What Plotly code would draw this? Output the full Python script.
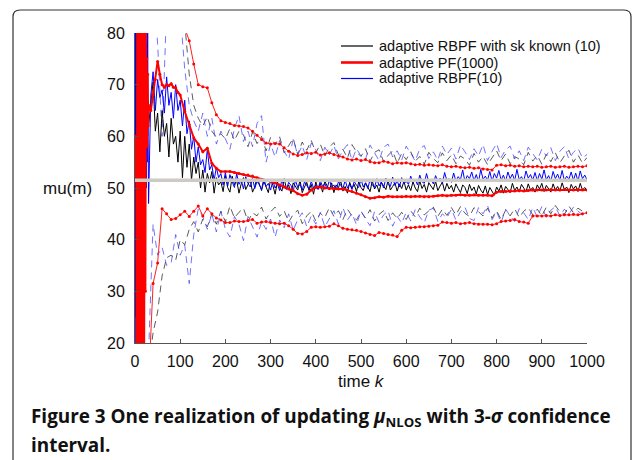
import plotly.graph_objects as go

# ---------------- data ----------------
# grid for the noisy solid estimates: k=0..30 step 1, then 35..1000 step 5
K_SOLID = list(range(0, 31)) + list(range(35, 1001, 5))
# grid for the PF mean: 0..30 step1, 35..95 step 5, 100..1000 step 10
K_PFMEAN = list(range(0, 31)) + list(range(35, 100, 5)) + list(range(100, 1001, 10))
# grid for confidence bounds
K_BOUND = list(range(0, 1001, 10))

rbpf_known = [
    50, 90, 25, 85, 30, 78, 38, 80, 35, 72, 45, 78, 50, 70, 55, 75, 48, 68, 60, 72, 55, 66, 62, 70, 58, 66, 63, 69, 60, 67, 62,
    66, 70.5, 61, 64.5, 57, 65, 60, 62.5, 56, 63.5, 58.5, 60, 55, 61,
    52, 60, 54, 58.5, 51.5, 56, 52.8, 55, 50, 53.5, 49.2, 52.8, 51, 53.2, 49, 52, 50.6, 51.2, 49.3, 52.4,
    50.1, 49.2, 52.3, 50.6, 51.5, 49, 50.8, 52, 49.7, 50.5, 51.6, 49.2, 50.2, 52.1, 50.9, 49.5, 51.3, 50, 49.1, 51.7,
    50.5, 48.8, 51.2, 50.1, 49.4, 51.8, 49.9, 50.6, 48.9, 51, 50.3, 49.6, 51.5, 49.1, 50.2, 51.1, 49.5, 50.7, 48.8, 51.2,
    49.8, 50.9, 49.2, 51.3, 50.4, 49.6, 51, 49.1, 50.6, 50, 51.4, 49.4, 50.3, 49, 51.1, 49.9, 50.7, 49.3, 51.2, 50.1,
    49.5, 51, 50.2, 49.3, 51.4, 49.8, 50.6, 49.2, 51.1, 50.4, 49.7, 51.5, 49.6, 50.3, 51, 49.4, 50.8, 49.9, 51.3, 49.6,
    50.6, 49.5, 51.2, 50, 49.3, 51.4, 49.9, 50.7, 49.2, 51, 50.3, 49.7, 51.3, 49.5, 50.4, 51.1, 49.4, 50.9, 49.8, 50.5,
    49.2, 50.8, 49.9, 49.1, 50.6, 50.1, 48.9, 50.7, 49.5, 50.2, 48.8, 50.5, 49.6, 49, 50.4, 48.7, 50.1, 49.3, 48.6, 50.2,
    49.4, 50.6, 49, 50.3, 49.8, 49.1, 50.9, 49.5, 50.2, 49.2, 50.7, 49.9, 49.3, 50.8, 49.6, 50.1, 49.2, 50.6, 49.8, 50.9,
    49.3, 50.5, 49.9, 49.2, 50.8, 49.6, 50.3, 49.4, 51, 49.7, 50.2, 49.1, 50.7, 49.8, 50.4, 49.3, 50.9, 49.6, 50.1, 49.5,
]

rbpf10 = [
    50, 85, 20, 88, 15, 80, 30, 75, 60, 70, 55, 65, 72, 58, 76, 50, 70, 62, 85, 40, 88, 30, 82, 45, 90, 50, 78, 55, 82, 60, 47,
    68, 72.5, 65, 71, 67.5, 69, 64.5, 71.5, 66, 68.5, 63.5, 70, 65, 67,
    62, 67, 60.5, 63, 57.5, 60, 55, 58, 54.5, 55.5, 53, 57.5, 53.5, 54.5, 51.5, 54, 52, 52.8, 50.6, 53,
    50.4, 52.6, 51.2, 50.1, 52.8, 50.7, 51.6, 49.8, 52.2, 50.9, 50.2, 51.9, 49.9, 51.3, 50.6, 49.7, 51.8, 50.3, 50.9, 49.6,
    51.4, 50, 50.8, 49.5, 51.6, 50.2, 49.7, 51.1, 50.5, 49.4, 51.5, 50.1, 50.7, 49.6, 51.2, 50.4, 49.8, 51.3, 50, 50.6,
    49.7, 51.4, 50.3, 50.9, 49.8, 51.6, 50.1, 50.6, 49.6, 51.2, 50.4, 49.9, 51.5, 50, 50.8, 49.7, 51.3, 50.5, 50.1, 51.7,
    50.2, 51, 49.9, 51.6, 50.6, 50.1, 51.8, 50.4, 51.2, 50, 51.9, 50.7, 50.3, 52.1, 50.5, 51.4, 50.2, 52, 50.8, 51.3,
    50.7, 52.3, 51, 51.6, 50.6, 52.5, 51.2, 50.9, 52.8, 51.1, 51.7, 50.8, 52.4, 51.3, 51.9, 50.9, 53, 51.4, 51.8, 51.1,
    52.9, 51.3, 52.2, 51.6, 53.5, 51.2, 52.4, 51.8, 53.1, 51.4, 52.6, 51.2, 53.6, 51.7, 52.3, 51.5, 53.2, 51.3, 52.8, 51.9,
    53.4, 51.5, 52.5, 51.3, 53.1, 51.8, 52.7, 51.4, 53.6, 51.6, 52.2, 51.3, 53.3, 51.9, 52.6, 51.5, 53, 51.4, 52.8, 51.7,
    53.5, 51.6, 52.4, 51.3, 53.2, 51.8, 52.7, 51.5, 53.4, 51.4, 52.3, 51.7, 53.1, 51.5, 52.9, 51.3, 53.3, 51.8, 52.5, 51.6,
]

pf1000 = [
    55, 60, 52, 58, 10, 90, 10, 90, 15, 90, 10, 85, 10, 90, 20, 90, 10, 90, 15, 90, 10,
    45, 88, 30, 80, 60, 75, 58, 72, 62, 66,
    65, 68, 71, 74.5, 72, 70, 69.5, 70, 69.8, 70.2, 69.5, 69.4, 68.5,
    68, 64.8, 62.3, 59.7, 58.5, 57, 57.7, 54.8, 53.8, 53.2,
    53.2, 53.2, 53.0, 52.8, 52.6, 52.5, 52.3, 52.0, 51.7, 51.4,
    51.3, 51.0, 50.6, 50.2, 49.8, 49.5, 48.9, 48.6, 48.8, 49.6,
    50.1, 50.2, 50.0, 49.9, 49.9, 49.8, 49.8, 49.6, 49.3, 49.0,
    48.7, 48.3, 48.0, 48.1, 48.3, 48.2, 48.4, 48.3, 48.3, 48.3,
    48.4, 48.3, 48.4, 48.4, 48.3, 48.3, 48.4, 48.5, 48.6, 48.5,
    48.6, 48.6, 48.7, 48.6, 48.6, 48.7, 48.6, 48.6, 48.6, 48.5,
    49.2, 49.3, 49.3, 49.4, 49.4, 49.5, 49.4, 49.5, 49.6, 49.6,
    49.6, 49.6, 49.7, 49.6, 49.6, 49.7, 49.6, 49.6, 49.7, 49.6,
    49.6,
]

pf_upper = [
    150, 140, 130, 120, 110, 104, 98, 93, 89, 86, 83, 81,
    78.5, 74, 70, 69.6, 69.4, 66.5, 64.2, 63, 62.7,
    62.5, 62.1, 62, 61.9, 61.6, 61, 60.2, 59.4, 58.7, 58.5,
    58.6, 58.5, 57.8, 57.1, 56.6, 56.3, 56.5, 56.8, 56.7, 56.9,
    56.4, 56.6, 56.8, 56.5, 56.2, 56, 55.6, 55.4, 55.6, 55.3,
    55.5, 55.1, 54.9, 54.9, 55.2, 55, 54.7, 54.9, 54.8, 54.9,
    54.7, 54.5, 54.6, 54.4, 54.5, 54.4, 54.3, 54.5, 54.2, 54.1,
    54.2, 54.0, 53.9, 54.0, 53.8, 53.9, 53.7, 53.6, 53.5, 54.4,
    54.5, 54.3, 54.4, 54.2, 54.3, 54.1, 54.2, 54.1, 54.2, 54.0,
    54.1, 54.2, 54.0, 54.1, 54.2, 54.0, 54.1, 54.2, 54.1, 54.3,
]

pf_lower = [
    -20, -10, 0, 12, 31.5, 35.5, 46, 45, 43.9, 44.1, 44.8,
    45.5, 44.5, 45.5, 46.5, 44.6, 46, 45, 44.2, 43.8, 43.3,
    43.3, 43.6, 43.5, 43.5, 43.7, 43.9, 43.2, 43.4, 43.5, 43.3,
    43.2, 43.1, 43.2, 42.7, 42, 41.2, 41.1, 41.6, 42.4, 42.5,
    42.4, 42.5, 42.6, 43.1, 42.7, 42.2, 42, 41.9, 41.8, 41.6,
    41.3, 41, 40.8, 41.4, 41.2, 41, 40.9, 40.6, 41.8, 42.4,
    42.3, 42.4, 42.5, 42.5, 42.6, 42.7, 42.8, 43.4, 43.3, 43.2,
    43.3, 43.1, 43.2, 43.3, 43.1, 43.0, 43.0, 43.0, 42.9, 43.1,
    43.5, 43.6, 43.7, 43.9, 43.5, 43.4, 43.2, 44.6, 44.6, 44.6,
    44.7, 44.6, 44.8, 44.7, 44.8, 44.8, 44.9, 44.8, 45.0, 45.2,
]

known_upper = [
    130, 125, 120, 115, 110, 105, 100, 95, 92, 88, 85, 82,
    72, 66, 63.5, 62, 63.8, 61, 59.8, 60.5, 59.5,
    61.5, 59.2, 61, 60.3, 58, 60.8, 58.6, 60, 57.2, 59.8,
    58.4, 59.9, 56.8, 58.2, 59.6, 56.5, 58.9, 57.3, 59.2, 56.8,
    58.5, 56.2, 57.9, 58.8, 56.4, 57.5, 55.8, 58.4, 57, 56.1,
    57.6, 55.2, 56.9, 57.4, 55.1, 56.3, 57.2, 54.8, 56.7, 55.5,
    57, 55.2, 56.1, 54.6, 56.9, 55.7, 54.9, 56.8, 55.3, 56.4,
    54.7, 56.2, 55.6, 54.4, 56.7, 55, 56.1, 54.5, 55.8, 57.2,
    55.3, 56.6, 54.7, 56.1, 55.6, 54.5, 56.9, 55.2, 56.3, 54.6,
    56.5, 55.1, 56.8, 54.9, 56.2, 57.3, 55, 56.4, 54.8, 55.9,
]

known_lower = [
    0, 5, 10, 15,
    22, 26, 33, 36.5, 37, 36, 40,
    39, 42, 43.5, 41.5, 44, 42.5, 45, 43, 45.5, 43.5,
    46.5, 44.2, 45.3, 46.1, 43.5, 45.2, 44.6, 46.3, 44, 45.4,
    46.3, 44.5, 45.6, 43.4, 44.9, 45.7, 43.1, 44.6, 45.5, 43.6,
    45.1, 44.3, 46.2, 44.5, 45.6, 43.9, 45.9, 44.6, 43.8, 45.4,
    44.2, 45.8, 43.6, 44.9, 45.6, 43.7, 45.2, 44.1, 45.3, 43.9,
    45.6, 44.4, 46.1, 44.8, 45.5, 46.3, 44.5, 45.9, 44.7, 46.2,
    44.8, 46.4, 45.1, 44.5, 46.2, 45.4, 44.6, 46.1, 44.2, 45.6,
    43.9, 45.7, 44.6, 46, 44.3, 45.5, 46.2, 44.8, 45.9, 44.6,
    46.3, 45, 46.6, 45.4, 44.9, 46.5, 45.2, 46.1, 45.5, 45.3,
]

rbpf_upper = [
    130, 120, 110, 100, 92,
    78, 60, 85, 90, 88, 84,
    73, 66, 63, 61, 64.5, 60, 63.5, 58.5, 61, 59.5,
    57.5, 61.5, 64, 59, 61, 58, 62.5, 64, 55, 58.5,
    56, 59.2, 57.1, 55.6, 59.4, 56.4, 58.2, 55.5, 58.7, 57.4,
    55.3, 57.9, 56.4, 58.2, 55.6, 57.3, 58.4, 55.4, 57.6, 56.2,
    55.6, 58.3, 56.8, 55.3, 57.9, 58.5, 56, 57.2, 55.4, 58.1,
    56.7, 55.2, 57.6, 58.2, 55.7, 57, 55.4, 58.1, 56.5, 57.7,
    55.6, 58.3, 57, 55.5, 57.6, 56.2, 58.4, 55.3, 57.1, 58.6,
    55.9, 57.4, 58.1, 55.6, 57.2, 55.3, 57.9, 56.6, 55.4, 57.5,
    56.2, 57.8, 55.3, 57.1, 58, 55.6, 56.9, 57.7, 55.8, 56.5,
]

rbpf_lower = [
    0, 5, 10, 18,
    43, 37, 38.5, 35, 35.5, 41, 37,
    39, 31.5, 41, 46, 44.5, 42, 45, 41.5, 45.5, 42,
    40.5, 44.5, 43, 39.8, 44.5, 42.5, 40.5, 43.5, 42, 44,
    40.5, 43.8, 42.3, 45, 41.8, 43.9, 45.2, 42.5, 44.6, 43,
    45.3, 42.5, 44.2, 45.6, 43, 46.2, 43.8, 45.1, 42.9, 45.6,
    44, 42.7, 45.4, 43.3, 44.8, 45.6, 42.6, 44.5, 43.2, 45.3,
    43.6, 45.8, 44.4, 43.3, 45.7, 46.1, 43.5, 45, 44.2, 45.9,
    43.8, 45.4, 46.3, 44.1, 43.7, 46.2, 45, 46.6, 43.9, 45.4,
    43.3, 45.9, 44.6, 43.5, 46, 45.2, 43.9, 46.2, 44.4, 46.4,
    44.3, 45.7, 46.4, 44.6, 45.9, 44.9, 46.3, 45.5, 44.8, 45.5,
]

TRUE_MU = 51.5
X_RANGE = [0, 1000]
Y_RANGE = [20, 80]
X_TICKS = [0, 100, 200, 300, 400, 500, 600, 700, 800, 900, 1000]
Y_TICKS = [20, 30, 40, 50, 60, 70, 80]
LEGEND_LABELS = ["adaptive RBPF with sk known (10)", "adaptive PF(1000)", "adaptive RBPF(10)"]

for name, xs, ys in [("rbpf_known", K_SOLID, rbpf_known), ("rbpf10", K_SOLID, rbpf10),
                     ("pf1000", K_PFMEAN, pf1000), ("pf_upper", K_BOUND, pf_upper),
                     ("pf_lower", K_BOUND, pf_lower), ("known_upper", K_BOUND, known_upper),
                     ("known_lower", K_BOUND, known_lower), ("rbpf_upper", K_BOUND, rbpf_upper),
                     ("rbpf_lower", K_BOUND, rbpf_lower)]:
    assert len(xs) == len(ys), (name, len(xs), len(ys))

# ---------------- layout geometry ----------------
W, H = 635, 460
L, R, T, B = 135, 48, 33, 117
PW, PH = W - L - R, H - T - B


def px(x):
    return (x - L) / PW


def py(y):
    return (H - B - y) / PH


FONT = "Liberation Sans, Arial, sans-serif"
DASH = "7px,5px"
BLACK, RED, BLUE = "#000000", "#ff0000", "#0000ff"

fig = go.Figure()

# dashed confidence bounds
for ys in (known_upper, known_lower):
    fig.add_trace(go.Scatter(x=K_BOUND, y=ys, mode="lines", showlegend=False, hoverinfo="skip",
                             line=dict(color="rgba(40,40,40,0.85)", width=0.9, dash=DASH)))
for ys in (rbpf_upper, rbpf_lower):
    fig.add_trace(go.Scatter(x=K_BOUND, y=ys, mode="lines", showlegend=False, hoverinfo="skip",
                             line=dict(color="rgba(70,70,255,0.85)", width=0.9, dash=DASH)))

fig.add_trace(go.Scatter(x=K_SOLID, y=rbpf_known, mode="lines", showlegend=False,
                         line=dict(color=BLACK, width=1)))
fig.add_trace(go.Scatter(x=K_SOLID, y=rbpf10, mode="lines", showlegend=False,
                         line=dict(color=BLUE, width=1)))
fig.add_trace(go.Scatter(x=K_PFMEAN, y=pf1000, mode="lines+markers", showlegend=False,
                         line=dict(color=RED, width=2), marker=dict(color=RED, size=3)))
for ys in (pf_upper, pf_lower):
    fig.add_trace(go.Scatter(x=K_BOUND, y=ys, mode="lines+markers", showlegend=False, hoverinfo="skip",
                             line=dict(color="#ff2020", width=1), marker=dict(color=RED, size=3)))

fig.add_trace(go.Scatter(x=X_RANGE, y=[TRUE_MU, TRUE_MU], mode="lines", showlegend=False,
                         hoverinfo="skip", line=dict(color="#cdcac4", width=3.5)))

axis_common = dict(showgrid=False, zeroline=False, showline=True, linecolor="#555555", linewidth=1,
                   ticks="inside", ticklen=4, tickcolor="#555555", tickwidth=1,
                   tickfont=dict(family=FONT, size=16, color="#111111"), mirror=False)

fig.update_layout(
    width=W, height=H,
    margin=dict(l=L, r=R, t=T, b=B, autoexpand=False),
    paper_bgcolor="white", plot_bgcolor="white",
    xaxis=dict(range=X_RANGE, tickvals=X_TICKS, ticklabelstandoff=4, **axis_common),
    yaxis=dict(range=Y_RANGE, tickvals=Y_TICKS, ticklabelstandoff=6, **axis_common),
    showlegend=False,
)

# legend drawn by hand (tight row spacing as in the reference)
leg_rows = [46, 62.5, 78.5]
leg_styles = [(BLACK, 1.2), (RED, 2.6), (BLUE, 1.2)]
for label, yrow, (col, wd) in zip(LEGEND_LABELS, leg_rows, leg_styles):
    fig.add_shape(type="line", xref="paper", yref="paper", x0=px(341), x1=px(373), y0=py(yrow), y1=py(yrow),
                  line=dict(color=col, width=wd))
    fig.add_annotation(xref="paper", yref="paper", x=px(377), y=py(yrow), xanchor="left", yanchor="middle",
                       text=label, showarrow=False, font=dict(family=FONT, size=14.5, color="#111111"))

fig.add_annotation(xref="paper", yref="paper", x=px(94), y=py(188), xanchor="right", yanchor="middle",
                   text="mu(m)", showarrow=False, font=dict(family=FONT, size=17, color="#111111"))
fig.add_annotation(xref="paper", yref="paper", x=px(361), y=py(381), xanchor="center", yanchor="middle",
                   text="time <i>k</i>", showarrow=False, font=dict(family=FONT, size=17, color="#111111"))

CAP_FONT = dict(family="Open Sans, Lato, sans-serif", size=18.9, color="#111111")
fig.add_annotation(xref="paper", yref="paper", x=px(29), y=py(417), xanchor="left", yanchor="middle",
                   text="<b>Figure 3 One realization of updating <i>μ</i><sub>NLOS</sub> with 3-<i>σ</i> confidence</b>",
                   showarrow=False, font=CAP_FONT)
fig.add_annotation(xref="paper", yref="paper", x=px(29), y=py(445), xanchor="left", yanchor="middle",
                   text="<b>interval.</b>", showarrow=False, font=CAP_FONT)

# rounded frame (open at bottom)
r = 7
x0, x1, y0, yb = 13, 631, 10, 475


def pt(x, y):
    return f"{px(x):.5f},{py(y):.5f}"


path = (f"M {pt(x0, yb)} L {pt(x0, y0 + r)} Q {pt(x0, y0)} {pt(x0 + r, y0)} "
        f"L {pt(x1 - r, y0)} Q {pt(x1, y0)} {pt(x1, y0 + r)} L {pt(x1, yb)}")
fig.add_shape(type="path", xref="paper", yref="paper", path=path,
              line=dict(color="#333333", width=1.2), layer="above")

fig.write_html("out.html", config={"displayModeBar": False},
               post_script="document.body.style.margin='0px';")
